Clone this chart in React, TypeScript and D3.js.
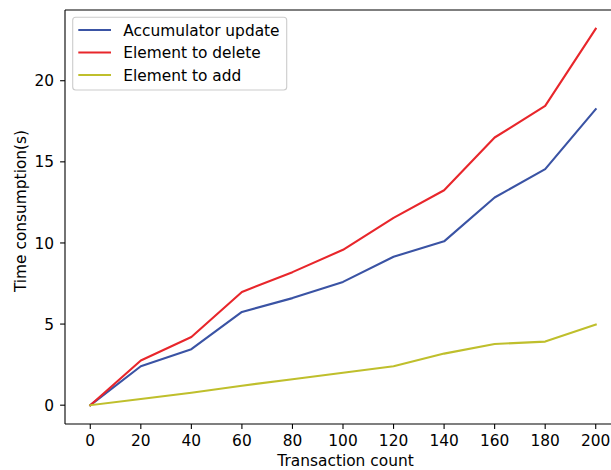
import React from "react";
import * as d3 from "d3";

const xValues = [0, 20, 40, 60, 80, 100, 120, 140, 160, 180, 200];
const accumulatorUpdate = [0, 2.4, 3.45, 5.75, 6.6, 7.6, 9.15, 10.1, 12.8, 14.55, 18.25];
const elementToDelete = [0, 2.75, 4.2, 6.98, 8.2, 9.58, 11.55, 13.25, 16.5, 18.45, 23.2];
const elementToAdd = [0, 0.38, 0.77, 1.2, 1.6, 2.0, 2.4, 3.18, 3.77, 3.92, 4.97];
const xTicks = [0, 20, 40, 60, 80, 100, 120, 140, 160, 180, 200];
const yTicks = [0, 5, 10, 15, 20];
const seriesNames = ["Accumulator update", "Element to delete", "Element to add"];
const seriesColors = ["#3a53a4", "#e8262b", "#bfbf2c"];

const W = 611;
const H = 470;
const left = 65;
const right = 621;
const top = 10;
const bottom = 424;
const FS = 15.4;

export default function App() {
  const x = d3.scaleLinear().domain([-10, 210]).range([left, right]);
  const y = d3.scaleLinear().domain([-1.16, 24.36]).range([bottom, top]);
  const series = [accumulatorUpdate, elementToDelete, elementToAdd];
  const line = d3
    .line<number>()
    .x((_, i) => x(xValues[i]))
    .y((d) => y(d));
  const font = "DejaVu Sans, sans-serif";
  return (
    <svg
      width={W}
      height={H}
      style={{ position: "absolute", left: 0, top: 0, background: "#fff" }}
      fontFamily={font}
    >
      <rect x={0} y={0} width={W} height={H} fill="#fff" />
      <defs>
        <clipPath id="plot">
          <rect x={left} y={top} width={right - left} height={bottom - top} />
        </clipPath>
      </defs>
      <g clipPath="url(#plot)">
        {series.map((s, i) => (
          <path
            key={i}
            d={line(s) || ""}
            fill="none"
            stroke={seriesColors[i]}
            strokeWidth={2.1}
            strokeLinejoin="round"
            strokeLinecap="square"
          />
        ))}
      </g>
      <g stroke="#000" strokeWidth={1.1} fill="none">
        <line x1={left} y1={top} x2={left} y2={bottom} />
        <line x1={left} y1={bottom} x2={right} y2={bottom} />
        <line x1={left} y1={top} x2={right} y2={top} />
        <line x1={right} y1={top} x2={right} y2={bottom} />
      </g>
      {xTicks.map((t) => (
        <g key={"x" + t}>
          <line x1={x(t)} x2={x(t)} y1={bottom} y2={bottom + 4.9} stroke="#000" strokeWidth={1.1} />
          <text x={x(t)} y={446} textAnchor="middle" fontSize={FS} fill="#000">
            {t}
          </text>
        </g>
      ))}
      {yTicks.map((t) => (
        <g key={"y" + t}>
          <line x1={left - 4.9} x2={left} y1={y(t)} y2={y(t)} stroke="#000" strokeWidth={1.1} />
          <text x={54} y={y(t)} dy="0.36em" textAnchor="end" fontSize={FS} fill="#000">
            {t}
          </text>
        </g>
      ))}
      <text x={345.5} y={466} textAnchor="middle" fontSize={FS} fill="#000">
        Transaction count
      </text>
      <text
        transform={`translate(26,211) rotate(-90)`}
        textAnchor="middle"
        fontSize={FS}
        fill="#000"
      >
        Time consumption(s)
      </text>
      <rect
        x={72.7}
        y={17.3}
        width={214}
        height={72.7}
        rx={3}
        ry={3}
        fill="#fff"
        fillOpacity={0.8}
        stroke="#cccccc"
        strokeWidth={1.1}
      />
      {seriesNames.map((n, i) => (
        <g key={n}>
          <line
            x1={78.3}
            x2={111}
            y1={30 + i * 22.5}
            y2={30 + i * 22.5}
            stroke={seriesColors[i]}
            strokeWidth={2.1}
          />
          <text x={123.3} y={30 + i * 22.5} dy="0.36em" fontSize={FS} fill="#000">
            {n}
          </text>
        </g>
      ))}
    </svg>
  );
}
